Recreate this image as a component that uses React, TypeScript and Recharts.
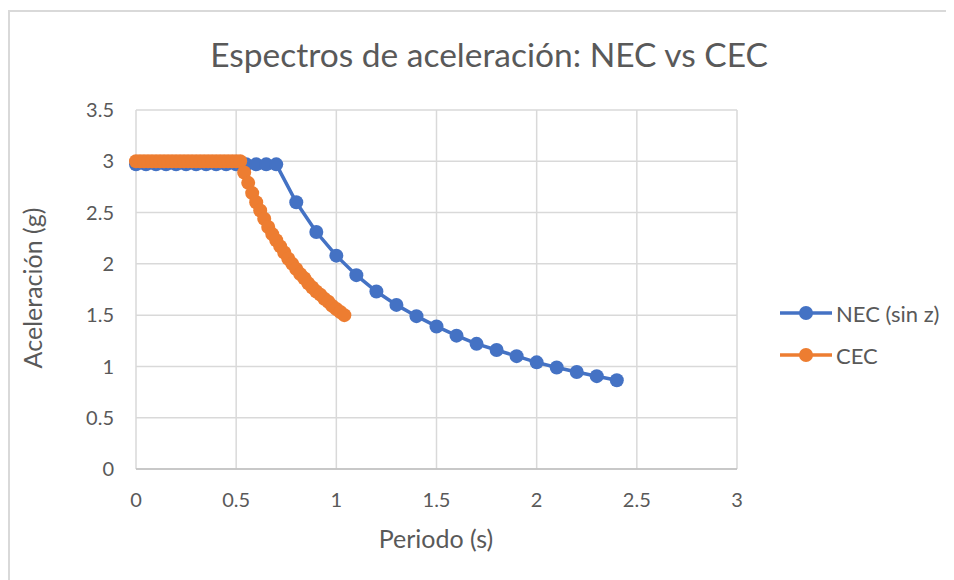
import React from "react";
import {
  LineChart,
  Line,
  XAxis,
  YAxis,
  CartesianGrid,
} from "recharts";

// Periodos (s) y aceleraciones espectrales (g)
const necPeriods = [
  0, 0.05, 0.1, 0.15, 0.2, 0.25, 0.3, 0.35, 0.4, 0.45, 0.5, 0.55, 0.6, 0.65,
  0.7, 0.8, 0.9, 1.0, 1.1, 1.2, 1.3, 1.4, 1.5, 1.6, 1.7, 1.8, 1.9, 2.0, 2.1,
  2.2, 2.3, 2.4,
];
const necAccel = [
  2.97, 2.97, 2.97, 2.97, 2.97, 2.97, 2.97, 2.97, 2.97, 2.97, 2.97, 2.97, 2.97,
  2.97, 2.97, 2.6, 2.31, 2.08, 1.89, 1.73, 1.6, 1.49, 1.39, 1.3, 1.22, 1.16,
  1.1, 1.04, 0.99, 0.945, 0.905, 0.865,
];

const cecPeriods = [
  0, 0.02, 0.04, 0.06, 0.08, 0.1, 0.12, 0.14, 0.16, 0.18, 0.2, 0.22, 0.24,
  0.26, 0.28, 0.3, 0.32, 0.34, 0.36, 0.38, 0.4, 0.42, 0.44, 0.46, 0.48, 0.5,
  0.52, 0.54, 0.56, 0.58, 0.6, 0.62, 0.64, 0.66, 0.68, 0.7, 0.72, 0.74, 0.76,
  0.78, 0.8, 0.82, 0.84, 0.86, 0.88, 0.9, 0.92, 0.94, 0.96, 0.98, 1.0, 1.02,
  1.04,
];
const cecAccel = [
  3, 3, 3, 3, 3, 3, 3, 3, 3, 3, 3, 3, 3, 3, 3, 3, 3, 3, 3, 3, 3, 3, 3, 3, 3,
  3, 3, 2.89, 2.79, 2.69, 2.6, 2.52, 2.44, 2.36, 2.29, 2.23, 2.17, 2.11, 2.05,
  2.0, 1.95, 1.9, 1.86, 1.81, 1.77, 1.73, 1.7, 1.66, 1.63, 1.59, 1.56, 1.53,
  1.5,
];

const xTicks = [0, 0.5, 1, 1.5, 2, 2.5, 3];
const yTicks = [0, 0.5, 1, 1.5, 2, 2.5, 3, 3.5];

const necData = necPeriods.map((t, i) => ({ t, a: necAccel[i] }));
const cecData = cecPeriods.map((t, i) => ({ t, a: cecAccel[i] }));

const FONT = "Lato, sans-serif";
const TEXT = "#595959";
const BLUE = "#4472c4";
const ORANGE = "#ed7d31";

const LegendItem = ({ color, label, top }: { color: string; label: string; top: number }) => (
  <div style={{ position: "absolute", left: 770, top, display: "flex", alignItems: "center", height: 24 }}>
    <svg width={52} height={16}>
      <line x1={0} y1={8} x2={52} y2={8} stroke={color} strokeWidth={3.5} />
      <circle cx={26} cy={8} r={7} fill={color} />
    </svg>
    <span style={{ marginLeft: 4, fontSize: 22, color: TEXT, fontFamily: FONT, whiteSpace: "nowrap" }}>
      {label}
    </span>
  </div>
);

const App = () => {
  return (
    <div
      style={{
        position: "relative",
        width: 946,
        height: 572,
        borderTop: "2px solid #d9d9d9",
        borderLeft: "2px solid #d9d9d9",
        marginTop: 2,
        boxSizing: "border-box",
      }}
    >
      <div style={{ position: "absolute", left: -2, top: -2 }}>
        <LineChart
          width={946}
          height={572}
          margin={{ top: 100, right: 217, left: 68, bottom: 83 }}
        >
          <CartesianGrid stroke="#d9d9d9" strokeWidth={1.5} />
          <XAxis
            type="number"
            dataKey="t"
            domain={[0, 3]}
            ticks={xTicks}
            height={30}
            tickLine={false}
            tickSize={0}
            tickMargin={24}
            stroke="#bfbfbf"
            strokeWidth={1.5}
            tick={{ fill: TEXT, fontSize: 20, fontFamily: FONT }}
          />
          <YAxis
            type="number"
            domain={[0, 3.5]}
            ticks={yTicks}
            width={60}
            axisLine={false}
            tickLine={false}
            tickSize={0}
            tickMargin={22}
            tick={{ fill: TEXT, fontSize: 20, fontFamily: FONT }}
          />
          <Line
            data={necData}
            dataKey="a"
            stroke={BLUE}
            strokeWidth={3.5}
            dot={{ r: 7, fill: BLUE, stroke: BLUE, strokeWidth: 0 }}
            isAnimationActive={false}
          />
          <Line
            data={cecData}
            dataKey="a"
            stroke={ORANGE}
            strokeWidth={3.5}
            dot={{ r: 7, fill: ORANGE, stroke: ORANGE, strokeWidth: 0 }}
            isAnimationActive={false}
          />
        </LineChart>
      </div>
      <div
        style={{
          position: "absolute",
          left: 0,
          width: 958,
          top: 22,
          textAlign: "center",
          fontSize: 33.5,
          color: TEXT,
          fontFamily: FONT,
          whiteSpace: "nowrap",
        }}
      >
        Espectros de aceleración: NEC vs CEC
      </div>
      <div
        style={{
          position: "absolute",
          left: 22 - 100,
          top: 276 - 15,
          width: 200,
          height: 30,
          lineHeight: "30px",
          textAlign: "center",
          transform: "rotate(-90deg)",
          fontSize: 25,
          color: TEXT,
          fontFamily: FONT,
          whiteSpace: "nowrap",
        }}
      >
        Aceleración (g)
      </div>
      <div
        style={{
          position: "absolute",
          left: 426 - 100,
          top: 511,
          width: 200,
          height: 30,
          lineHeight: "30px",
          textAlign: "center",
          fontSize: 25,
          color: TEXT,
          fontFamily: FONT,
          whiteSpace: "nowrap",
        }}
      >
        Periodo (s)
      </div>
      <LegendItem color={BLUE} label="NEC (sin z)" top={289} />
      <LegendItem color={ORANGE} label="CEC" top={331} />
    </div>
  );
};

export default App;
